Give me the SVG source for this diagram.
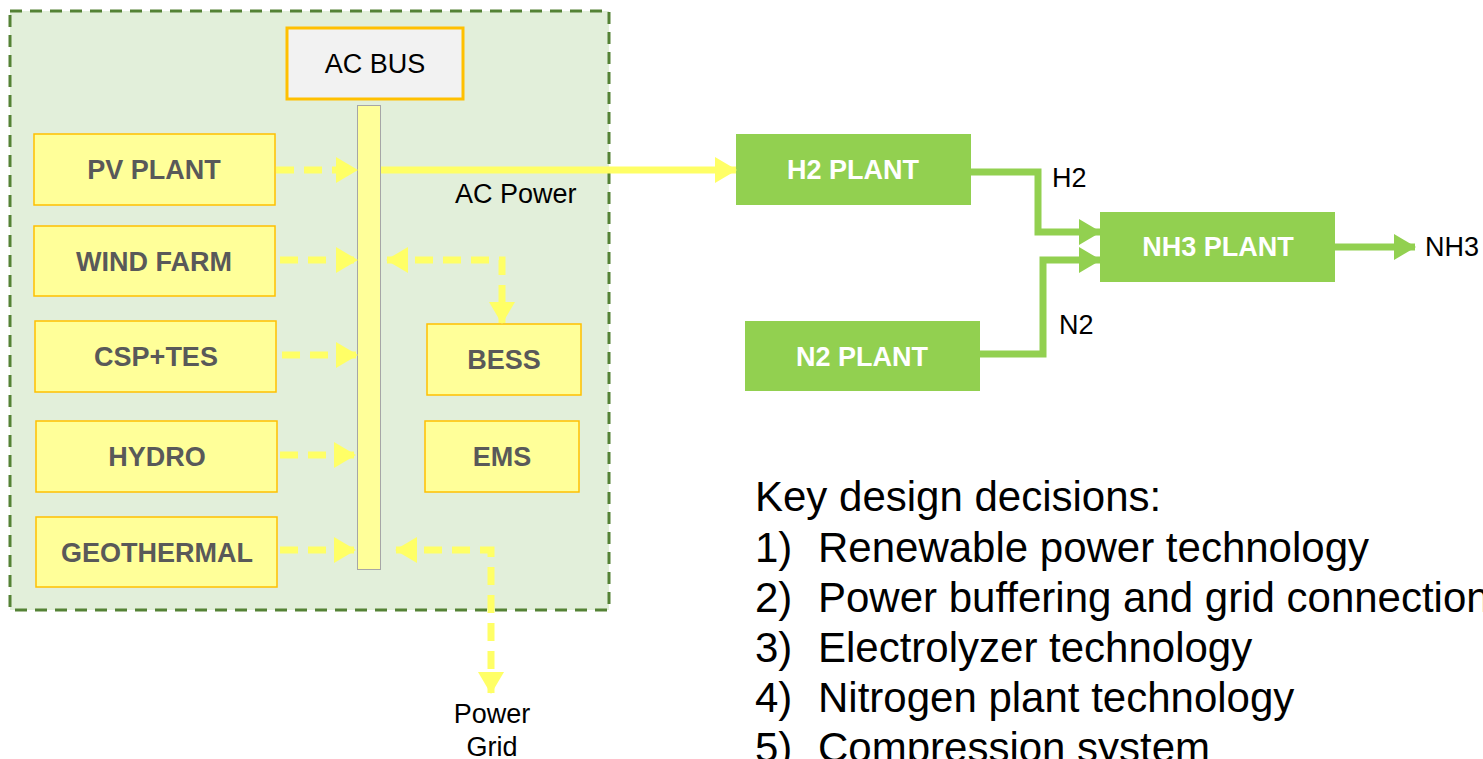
<svg xmlns="http://www.w3.org/2000/svg" width="1483" height="759" viewBox="0 0 1483 759">
<defs>
<style>
text{font-family:"Liberation Sans",Arial,sans-serif}
.ybox{fill:#ffff99;stroke:#ffc000;stroke-width:1.5}
.gbox{fill:#92d050}
.ylab{font-size:27px;font-weight:bold;fill:#595959;text-anchor:middle}
.glab{font-size:27px;font-weight:bold;fill:#ffffff;text-anchor:middle}
.lab{font-size:27px;fill:#000}
.ydash{fill:none;stroke:#ffff66;stroke-width:7;stroke-dasharray:18 10}
.ysolid{fill:none;stroke:#ffff66;stroke-width:7}
.gline{fill:none;stroke:#92d050;stroke-width:7}
.key{font-size:42px;fill:#000}
</style>
<marker id="ya" markerUnits="userSpaceOnUse" markerWidth="22" markerHeight="26" refX="21" refY="13" orient="auto-start-reverse">
<path d="M0,0 L22,13 L0,26 z" fill="#ffff66"/>
</marker>
<marker id="ga" markerUnits="userSpaceOnUse" markerWidth="22" markerHeight="26" refX="21" refY="13" orient="auto">
<path d="M0,0 L22,13 L0,26 z" fill="#92d050"/>
</marker>
</defs>

<g id="boundary">
<rect x="10" y="11" width="599" height="599" fill="#e2efda" stroke="#548235" stroke-width="3" stroke-dasharray="12 8"/>
</g>

<g id="acbus">
<rect x="287" y="28" width="176" height="71" fill="#f2f2f2" stroke="#ffc000" stroke-width="3"/>
<text x="375" y="73" class="lab" text-anchor="middle">AC BUS</text>
</g>
<g id="busbar">
<rect x="357.5" y="105.5" width="23" height="464" fill="#ffff99" stroke="#a6a6a6" stroke-width="1"/>
</g>

<g id="pv"><rect class="ybox" x="34" y="134" width="241" height="71"/><text class="ylab" x="154" y="179">PV PLANT</text></g>
<g id="wind"><rect class="ybox" x="34" y="226" width="241" height="70"/><text class="ylab" x="154" y="271">WIND FARM</text></g>
<g id="csp"><rect class="ybox" x="35" y="321" width="241" height="71"/><text class="ylab" x="156" y="366">CSP+TES</text></g>
<g id="hydro"><rect class="ybox" x="36" y="421" width="241" height="71"/><text class="ylab" x="157" y="466">HYDRO</text></g>
<g id="geo"><rect class="ybox" x="36" y="517" width="241" height="70"/><text class="ylab" x="157" y="562">GEOTHERMAL</text></g>
<g id="bess"><rect class="ybox" x="427" y="324" width="154" height="71"/><text class="ylab" x="504" y="369">BESS</text></g>
<g id="ems"><rect class="ybox" x="425" y="421" width="154" height="71"/><text class="ylab" x="502" y="466">EMS</text></g>

<g id="h2"><rect class="gbox" x="736" y="134" width="235" height="71"/><text class="glab" x="853" y="179">H2 PLANT</text></g>
<g id="nh3"><rect class="gbox" x="1100" y="212" width="235" height="70"/><text class="glab" x="1218" y="256">NH3 PLANT</text></g>
<g id="n2"><rect class="gbox" x="745" y="321" width="235" height="70"/><text class="glab" x="862" y="366">N2 PLANT</text></g>

<g id="connectors">
<path class="ydash" d="M276,170 H357" marker-end="url(#ya)"/>
<path class="ydash" d="M280,260 H357" marker-end="url(#ya)"/>
<path class="ydash" d="M282,355 H357" marker-end="url(#ya)"/>
<path class="ydash" d="M280,455 H355" marker-end="url(#ya)"/>
<path class="ydash" d="M280,550 H355" marker-end="url(#ya)"/>
<path class="ydash" d="M387,260 H502 V323" marker-start="url(#ya)" marker-end="url(#ya)"/>
<path class="ydash" d="M396,550 H491 V693" marker-start="url(#ya)" marker-end="url(#ya)"/>
<path class="ysolid" d="M381,170 H736" marker-end="url(#ya)"/>
<path class="gline" d="M971,172 H1038 V232 H1100" marker-end="url(#ga)"/>
<path class="gline" d="M980,354 H1043 V260 H1100" marker-end="url(#ga)"/>
<path class="gline" d="M1335,247 H1415" marker-end="url(#ga)"/>
</g>

<g id="labels">
<text class="lab" x="455" y="203">AC Power</text>
<text class="lab" x="1052" y="187">H2</text>
<text class="lab" x="1059" y="334">N2</text>
<text class="lab" x="1425" y="256">NH3</text>
<text class="lab" x="492" y="723" text-anchor="middle">Power</text>
<text class="lab" x="492" y="756" text-anchor="middle">Grid</text>
</g>

<g id="keytext">
<text class="key" x="755" y="511">Key design decisions:</text>
<text class="key" x="755" y="562">1)</text><text class="key" x="818" y="562">Renewable power technology</text>
<text class="key" x="755" y="612">2)</text><text class="key" x="818" y="612">Power buffering and grid connection</text>
<text class="key" x="755" y="662">3)</text><text class="key" x="818" y="662">Electrolyzer technology</text>
<text class="key" x="755" y="712">4)</text><text class="key" x="818" y="712">Nitrogen plant technology</text>
<text class="key" x="755" y="762">5)</text><text class="key" x="818" y="762">Compression system</text>
</g>
</svg>
